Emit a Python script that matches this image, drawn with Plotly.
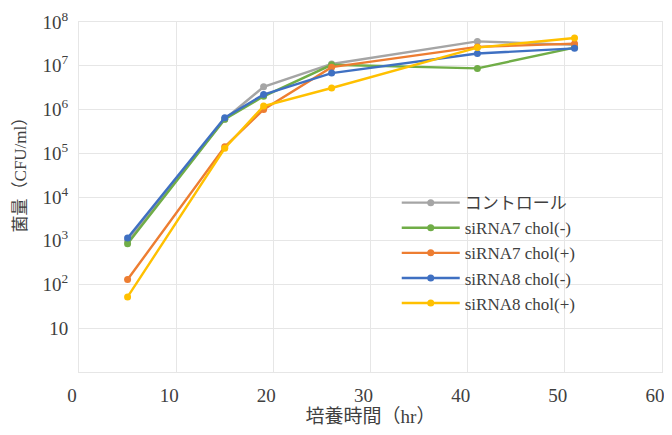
import plotly.graph_objects as go

hours = [5, 15, 19, 26, 41, 51]
series_names = ["コントロール", "siRNA7 chol(-)", "siRNA7 chol(+)", "siRNA8 chol(-)", "siRNA8 chol(+)"]
control = [1.0e3, 6.0e5, 3.3e6, 1.1e7, 3.6e7, 3.0e7]
sirna7_minus = [8.5e2, 6.0e5, 2.0e6, 1.05e7, 8.7e6, 2.6e7]
sirna7_plus = [1.3e2, 1.4e5, 1.0e6, 9.3e6, 2.7e7, 3.2e7]
sirna8_minus = [1.15e3, 6.5e5, 2.2e6, 6.8e6, 1.9e7, 2.5e7]
sirna8_plus = [52, 1.3e5, 1.2e6, 3.1e6, 2.6e7, 4.3e7]
colors = ["#A5A5A5", "#70AD47", "#ED7D31", "#3F70C2", "#FFC000"]

y_tickvals = [10, 1e2, 1e3, 1e4, 1e5, 1e6, 1e7, 1e8]
y_ticktext = ["10", "10<sup>2</sup>", "10<sup>3</sup>", "10<sup>4</sup>", "10<sup>5</sup>",
              "10<sup>6</sup>", "10<sup>7</sup>", "10<sup>8</sup>"]
x_tickvals = [0, 10, 20, 30, 40, 50, 60]
y_title = "菌量（CFU/ml）"
x_title = "培養時間（hr）"

FONT = "Liberation Serif, Noto Sans CJK JP, serif"

fig = go.Figure()
for name, vals, col in zip(series_names,
                           [control, sirna7_minus, sirna7_plus, sirna8_minus, sirna8_plus],
                           colors):
    fig.add_trace(go.Scatter(
        x=hours, y=vals, name=name, mode="lines+markers",
        line=dict(color=col, width=2.4),
        marker=dict(color=col, size=7),
    ))

grid = "#E6E6E6"
fig.update_layout(
    width=656, height=419,
    margin=dict(l=71, r=2, t=14, b=55),
    paper_bgcolor="white", plot_bgcolor="white",
    font=dict(family=FONT, color="#404040", size=16),
    showlegend=True,
    legend=dict(x=0.545, y=0.534, xanchor="left", yanchor="top",
                bgcolor="rgba(0,0,0,0)", font=dict(size=17, family=FONT, color="#404040"),
                itemwidth=58, tracegroupgap=0),
    xaxis=dict(range=[0, 60.001], tickvals=x_tickvals, showgrid=True, gridcolor=grid,
               showline=True, linecolor=grid, mirror=True, zeroline=False, automargin=False,
               ticks="", tickfont=dict(size=19), ticklabelstandoff=6, ticklabelshift=-7,
               ticklabeloverflow="allow",
               title=dict(text=x_title, font=dict(size=19), standoff=6)),
    yaxis=dict(type="log", range=[0, 8], tickvals=y_tickvals, ticktext=y_ticktext,
               showgrid=True, gridcolor=grid, showline=True, linecolor=grid, mirror=True,
               zeroline=False, automargin=False, ticks="", tickfont=dict(size=19),
               ticklabelstandoff=6),
    annotations=[dict(text=y_title, textangle=-90, xref="paper", yref="paper",
                      x=-0.1005, y=0.577, xanchor="center", yanchor="middle",
                      showarrow=False, font=dict(size=17, family=FONT, color="#404040"))],
)

fig.write_html("out.html")
